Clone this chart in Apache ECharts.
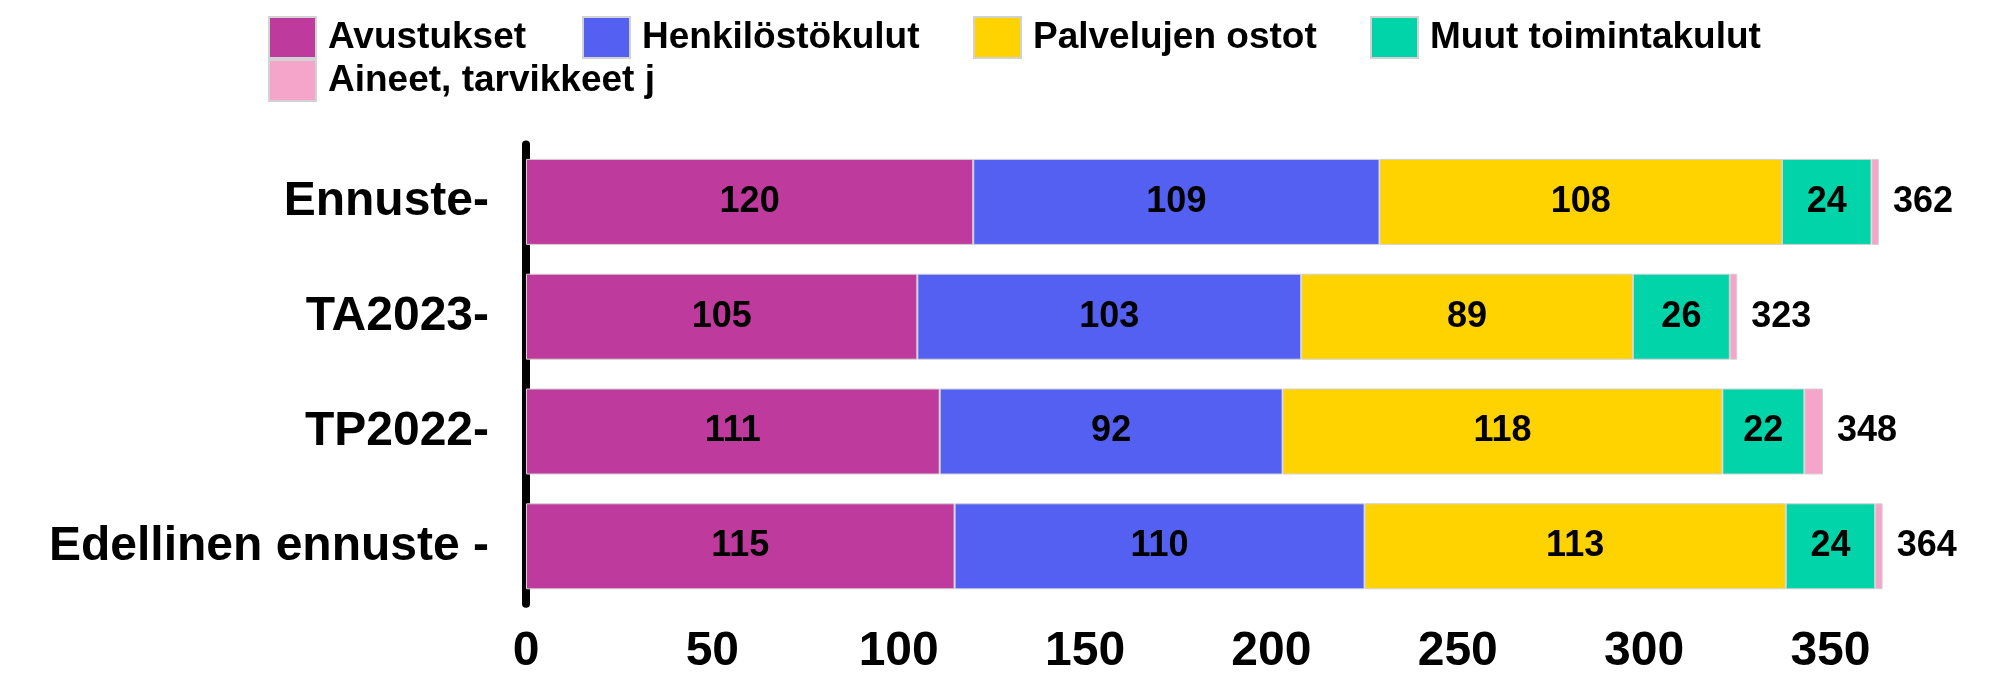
<!DOCTYPE html>
<html>
    <head>
        <meta charset="utf-8">
        <script src="https://cdn.jsdelivr.net/npm/echarts@6.0.0/dist/echarts.min.js"></script>
        <style>
            html, body { margin: 0; padding: 0; background: #fff; }
        </style>
    </head>
    <body>
        <div id="main" style="width: 1992px; height: 678px;"></div>
        <script>
            // rivit ylhäältä alas
            var categories = ['Ennuste-', 'TA2023-', 'TP2022-', 'Edellinen ennuste -'];
            var avustukset = [120, 105, 111, 115];
            var henkilosto = [109, 103, 92, 110];
            var palvelut = [108, 89, 118, 113];
            var muut = [24, 26, 22, 24];
            var aineet = [2, 2, 5, 2];
            var totals = [362, 323, 348, 364];

            var names = ['Avustukset', 'Henkilöstökulut', 'Palvelujen ostot', 'Muut toimintakulut', 'Aineet, tarvikkeet j'];
            var values = [avustukset, henkilosto, palvelut, muut, aineet];
            var colors = ['#BF3A9D', '#5460F2', '#FFD300', '#00D4A8', '#F5A5C9'];

            var FONT = '"Liberation Sans", Arial, sans-serif';
            var chartDom = document.getElementById('main');
            var myChart = echarts.init(chartDom);

            var legendPos = [[268, 16], [582, 16], [973, 16], [1370, 16], [268, 59]];
            var legends = names.map(function (n, i) {
                return {
                    data: [n],
                    left: legendPos[i][0],
                    top: legendPos[i][1],
                    padding: 0,
                    icon: 'rect',
                    itemWidth: 47,
                    itemHeight: 41,
                    selectedMode: false,
                    textStyle: {
                        fontFamily: FONT,
                        fontSize: 37,
                        fontWeight: 'bold',
                        color: '#000',
                        padding: [0, 0, 0, 7]
                    }
                };
            });

            var seriesList = names.map(function (n, i) {
                var last = i === names.length - 1;
                return {
                    type: 'bar',
                    name: n,
                    stack: 'total',
                    barWidth: 86,
                    data: values[i],
                    itemStyle: {
                        color: colors[i],
                        borderColor: '#d2d2d2',
                        borderWidth: 1
                    },
                    label: last ? {
                        show: true,
                        position: 'right',
                        distance: 14,
                        fontFamily: FONT,
                        fontSize: 36,
                        fontWeight: 'bold',
                        color: '#000',
                        formatter: function (p) { return totals[p.dataIndex]; }
                    } : {
                        show: true,
                        position: 'inside',
                        fontFamily: FONT,
                        fontSize: 36,
                        fontWeight: 'bold',
                        color: '#000'
                    },
                    emphasis: { disabled: true }
                };
            });

            var option = {
                animation: false,
                legend: legends,
                grid: {
                    left: 526,
                    right: 87,
                    top: 144.5,
                    bottom: 74.3,
                    containLabel: false
                },
                xAxis: {
                    type: 'value',
                    min: 0,
                    max: 370,
                    interval: 50,
                    axisLine: { show: false },
                    axisTick: { show: false },
                    splitLine: { show: false },
                    axisLabel: {
                        showMaxLabel: false,
                        margin: 24,
                        fontFamily: FONT,
                        fontSize: 48,
                        fontWeight: 'bold',
                        color: '#000'
                    }
                },
                yAxis: {
                    type: 'category',
                    inverse: true,
                    data: categories,
                    axisLine: { show: true, lineStyle: { color: '#000', width: 8 } },
                    axisTick: { show: false },
                    axisLabel: {
                        margin: 37,
                        fontFamily: FONT,
                        fontSize: 48,
                        fontWeight: 'bold',
                        color: '#000'
                    }
                },
                series: seriesList
            };

            myChart.setOption(option);
        </script>
    </body>
</html>
